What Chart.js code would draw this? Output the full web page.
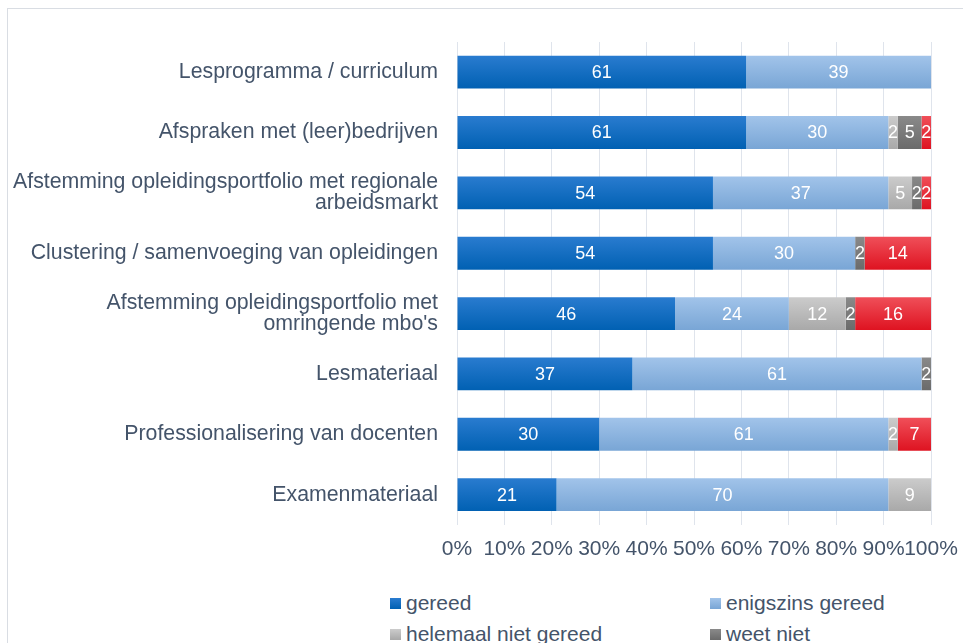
<!DOCTYPE html>
<html>
<head>
<meta charset="utf-8">
<script src="https://cdn.jsdelivr.net/npm/chart.js@4"></script>
<style>
  html, body { margin: 0; padding: 0; background: #fff; overflow: hidden; }
  body { width: 963px; height: 643px; position: relative; font-family: "Liberation Sans", Arial, sans-serif; }
  #frame { position: absolute; left: 7px; top: 8px; width: 1000px; height: 700px; border: 1px solid #d9dde3; box-sizing: border-box; }
  #wrap { position: absolute; left: 0; top: 0; width: 963px; height: 574px; }
  .legend { position: absolute; font-size: 21px; line-height: 24px; color: #44546a; white-space: nowrap; }
  .legend span.box { display: inline-block; width: 11px; height: 11px; margin-right: 5px; vertical-align: 1px; }
</style>
</head>
<body>
<div id="frame"></div>
<div id="wrap"><canvas id="chart"></canvas></div>
<div id="legend"></div>
<script>
// Categories (top to bottom)
const categories = [
  "Lesprogramma / curriculum",
  "Afspraken met (leer)bedrijven",
  ["Afstemming opleidingsportfolio met regionale", "arbeidsmarkt"],
  "Clustering / samenvoeging van opleidingen",
  ["Afstemming opleidingsportfolio met", "omringende mbo's"],
  "Lesmateriaal",
  "Professionalisering van docenten",
  "Examenmateriaal",
];

// Percentages per series
const gereed = [61, 61, 54, 54, 46, 37, 30, 21];
const enigszinsGereed = [39, 30, 37, 30, 24, 61, 61, 70];
const helemaalNietGereed = [0, 2, 5, 0, 12, 0, 2, 9];
const weetNiet = [0, 5, 2, 2, 2, 2, 0, 0];
const overig = [0, 2, 2, 14, 16, 0, 7, 0];

const xTicks = [0, 10, 20, 30, 40, 50, 60, 70, 80, 90, 100];

const textColor = "#44546a";
const gridColor = "#dfe4ec";
const fontFamily = '"Liberation Sans", Arial, sans-serif';

// vertical gradient per bar, like the original
function grad(top, bottom) {
  return (ctx) => {
    const chart = ctx.chart;
    const y = chart.scales && chart.scales.y;
    if (!y || ctx.type !== "data") return bottom;
    const c = y.getPixelForValue(ctx.dataIndex);
    if (!Number.isFinite(c)) return bottom;
    const g = chart.ctx.createLinearGradient(0, c - 17, 0, c + 17);
    g.addColorStop(0, top);
    g.addColorStop(1, bottom);
    return g;
  };
}

const series = [
  { label: "gereed", data: gereed, top: "#2a7cd0", bottom: "#0060b2", legend: [390, 603] },
  { label: "enigszins gereed", data: enigszinsGereed, top: "#a2c4ea", bottom: "#78a5d5", legend: [710, 603] },
  { label: "helemaal niet gereed", data: helemaalNietGereed, top: "#cccccc", bottom: "#a8a8a8", legend: [390, 634] },
  { label: "weet niet", data: weetNiet, top: "#8a8a8a", bottom: "#6a6a6a", legend: [710, 634] },
  { label: "overig", data: overig, top: "#f0505a", bottom: "#de1220", legend: null },
];

// Value labels inside the bars
const valueLabels = {
  id: "valueLabels",
  afterDatasetsDraw(chart) {
    const ctx = chart.ctx;
    ctx.save();
    ctx.font = "18px " + fontFamily;
    ctx.fillStyle = "#ffffff";
    ctx.textAlign = "center";
    ctx.textBaseline = "middle";
    chart.data.datasets.forEach((ds, i) => {
      const meta = chart.getDatasetMeta(i);
      meta.data.forEach((bar, j) => {
        const v = ds.data[j];
        if (!v) return;
        const p = bar.getCenterPoint();
        ctx.fillText(String(v), p.x, p.y + 1);
      });
    });
    ctx.restore();
  },
};

new Chart(document.getElementById("chart"), {
  type: "bar",
  data: {
    labels: categories,
    datasets: series.map((s) => ({
      label: s.label,
      data: s.data,
      backgroundColor: grad(s.top, s.bottom),
      borderWidth: 0,
      categoryPercentage: 1,
      barPercentage: 0.545,
    })),
  },
  options: {
    indexAxis: "y",
    responsive: true,
    maintainAspectRatio: false,
    animation: false,
    layout: { padding: { top: 42, right: 32, left: 0, bottom: 0 } },
    scales: {
      x: {
        stacked: true,
        min: 0,
        max: 100,
        afterBuildTicks: (scale) => {
          scale.ticks = xTicks.map((v) => ({ value: v }));
        },
        afterFit: (scale) => {
          scale.paddingLeft = 0;
          scale.paddingRight = 0;
        },
        grid: { color: gridColor, drawTicks: false, lineWidth: 1 },
        border: { display: false },
        ticks: {
          color: textColor,
          font: { family: fontFamily, size: 21 },
          padding: 12,
          maxRotation: 0,
          autoSkip: false,
          callback: (v) => v + "%",
        },
      },
      y: {
        stacked: true,
        grid: { display: false, drawTicks: false },
        border: { display: false },
        afterFit: (scale) => {
          scale.width = 457;
          scale.paddingTop = 0;
          scale.paddingBottom = 0;
        },
        ticks: {
          color: textColor,
          font: { family: fontFamily, size: 21.3, lineHeight: 1.0 },
          padding: 19,
          autoSkip: false,
        },
      },
    },
    plugins: {
      legend: { display: false },
      tooltip: { enabled: false },
    },
  },
  plugins: [valueLabels],
});

// Legend in two columns (third row falls below the picture)
const legendEl = document.getElementById("legend");
series.forEach((s) => {
  if (!s.legend) return;
  const d = document.createElement("div");
  d.className = "legend";
  d.style.left = s.legend[0] + "px";
  d.style.top = s.legend[1] - 12 + "px";
  d.innerHTML =
    '<span class="box" style="background:linear-gradient(' + s.top + "," + s.bottom + ')"></span>' + s.label;
  legendEl.appendChild(d);
});
</script>
</body>
</html>
